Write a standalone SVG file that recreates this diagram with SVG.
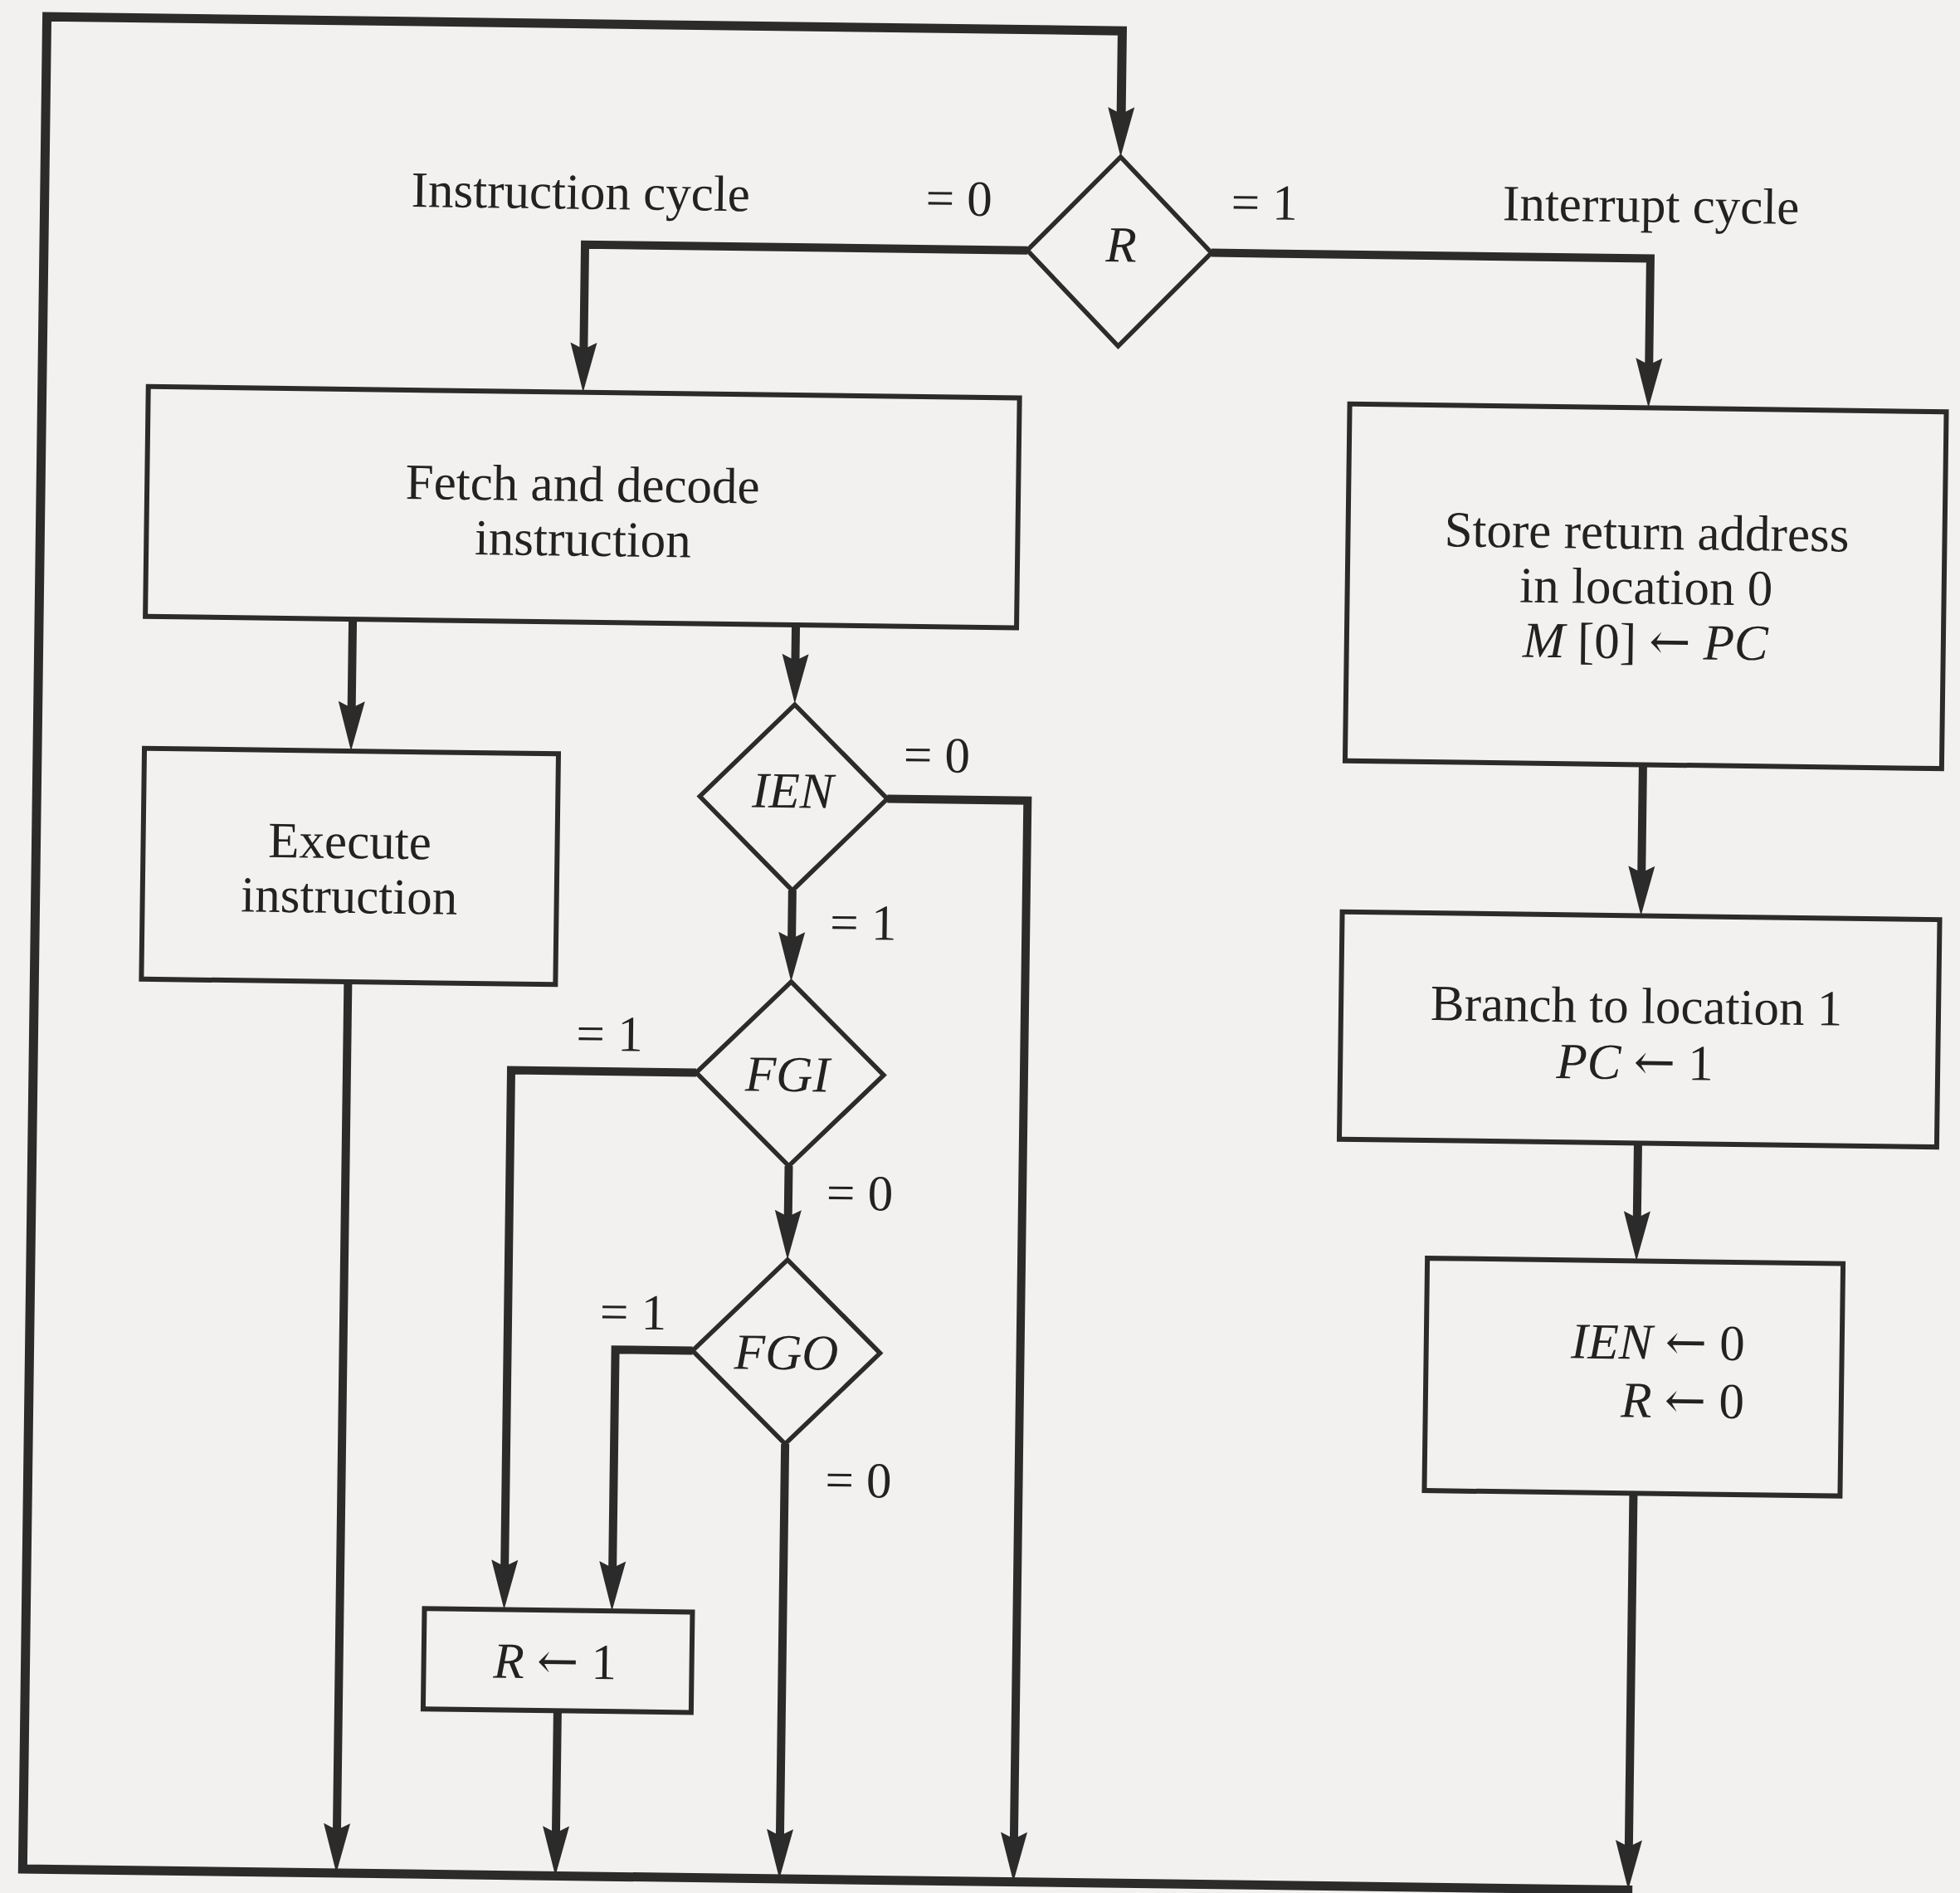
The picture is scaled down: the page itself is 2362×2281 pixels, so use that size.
<svg xmlns="http://www.w3.org/2000/svg" width="2362" height="2281" viewBox="0 0 2362 2281">
<defs>
<style>
.c{fill:none;stroke:#2b2b2b;stroke-width:10;stroke-linejoin:miter;stroke-linecap:butt}
.lp{stroke-width:11}
.a{marker-end:url(#arr)}
.box{fill:none;stroke:#2b2b2b;stroke-width:6}
.dia{fill:none;stroke:#2b2b2b;stroke-width:5.5;stroke-linejoin:miter}
.t{font-family:"Liberation Serif","DejaVu Serif",serif;font-size:61px;fill:#222;text-anchor:middle}
.i{font-style:italic}
.ar{font-family:"DejaVu Serif",serif;font-size:60px}
</style>
<marker id="arr" markerUnits="userSpaceOnUse" viewBox="-32 -18 64 36" markerWidth="64" markerHeight="36" refX="0" refY="0" orient="auto">
<path d="M30,0 L-30,-16 L-22,0 L-30,16 Z" fill="#2b2b2b"/>
</marker>
</defs>
<rect x="0" y="0" width="2362" height="2281" fill="#f3f1ef"/>
<g transform="rotate(0.75 1181 1140)">
<g id="connectors">
<path class="c lp a" d="M1982,2267 H42 V35 H1338 V157"/>
<path class="c a" d="M1227,301 H694 V449"/>
<path class="c a" d="M1449,301 H1978 V451"/>
<path class="c a" d="M420,756 V885"/>
<path class="c a" d="M954,756 V821"/>
<path class="c a" d="M420,1193 V2237"/>
<path class="c a" d="M1067,964 H1236 V2237"/>
<path class="c a" d="M954,1076 V1156"/>
<path class="c a" d="M841,1297 H618 V1917"/>
<path class="c a" d="M954,1408 V1491"/>
<path class="c a" d="M841,1632 H748 V1917"/>
<path class="c a" d="M954,1743 V2237"/>
<path class="c a" d="M684,2068 V2237"/>
<path class="c a" d="M1977,911 V1063"/>
<path class="c a" d="M1977,1367 V1479"/>
<path class="c a" d="M1977,1789 V2237"/>
</g>
<g id="labels">
<text class="t" x="688" y="258">Instruction cycle</text>
<text class="t" x="1144" y="260">= 0</text>
<text class="t" x="1512" y="260">= 1</text>
<text class="t" x="1978" y="257">Interrupt cycle</text>
<text class="t" x="1126" y="931">= 0</text>
<text class="t" x="1040" y="1134">= 1</text>
<text class="t" x="736" y="1272">= 1</text>
<text class="t" x="1040" y="1460">= 0</text>
<text class="t" x="769" y="1607">= 1</text>
<text class="t" x="1043" y="1806">= 0</text>
</g>
<g id="node-R">
<polygon class="dia" points="1338,187 1449,301 1338,415 1227,301"/>
<text class="t i" x="1340" y="313">R</text>
</g>
<g id="node-fetch">
<rect class="box" x="170" y="479" width="1050" height="277"/>
<text class="t" x="695" y="610">Fetch and decode</text>
<text class="t" x="696" y="676">instruction</text>
</g>
<g id="node-execute">
<rect class="box" x="171" y="915" width="499" height="278"/>
<text class="t" x="420" y="1044">Execute</text>
<text class="t" x="420" y="1110">instruction</text>
</g>
<g id="node-IEN">
<polygon class="dia" points="954,852 1067,964 954,1076 841,964"/>
<text class="t i" x="953" y="976">IEN</text>
</g>
<g id="node-FGI">
<polygon class="dia" points="954,1186 1067,1297 954,1408 841,1297"/>
<text class="t i" x="951" y="1318">FGI</text>
</g>
<g id="node-FGO">
<polygon class="dia" points="954,1521 1067,1632 954,1743 841,1632"/>
<text class="t i" x="954" y="1653">FGO</text>
</g>
<g id="node-setR">
<rect class="box" x="522" y="1947" width="323" height="121"/>
<text class="t" x="680" y="2029"><tspan class="i">R</tspan> <tspan class="ar">←</tspan> 1</text>
</g>
<g id="node-store">
<rect class="box" x="1618" y="481" width="719" height="430"/>
<text class="t" x="1978" y="651">Store return address</text>
<text class="t" x="1978" y="717">in location 0</text>
<text class="t" x="1978" y="783"><tspan class="i">M</tspan> [0] <tspan class="ar">←</tspan> <tspan class="i">PC</tspan></text>
</g>
<g id="node-branch">
<rect class="box" x="1617" y="1093" width="720" height="274"/>
<text class="t" x="1973" y="1222">Branch to location 1</text>
<text class="t" x="1972" y="1290"><tspan class="i">PC</tspan> <tspan class="ar">←</tspan> 1</text>
</g>
<g id="node-clear">
<rect class="box" x="1725" y="1509" width="501" height="280"/>
<text class="t" x="2109" y="1627" style="text-anchor:end"><tspan class="i">IEN</tspan> <tspan class="ar">←</tspan> 0</text>
<text class="t" x="2109" y="1697" style="text-anchor:end"><tspan class="i">R</tspan> <tspan class="ar">←</tspan> 0</text>
</g>
</g>
</svg>
